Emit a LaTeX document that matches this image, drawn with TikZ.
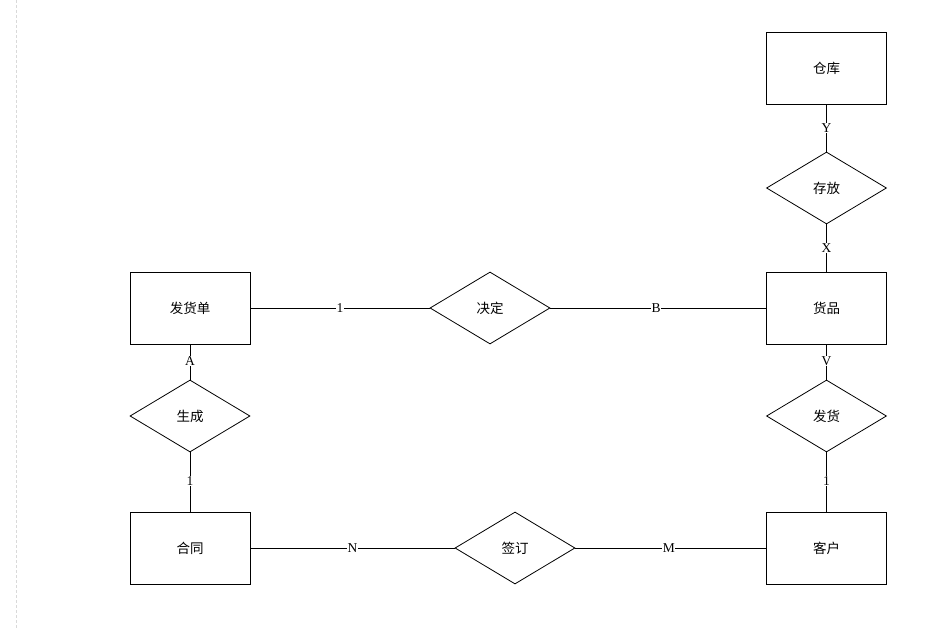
\documentclass[tikz,border=0pt]{standalone}
\usepackage{fontspec}
\setmainfont{Liberation Serif}
\newfontfamily\cjk{Noto Sans CJK SC}
\usetikzlibrary{shapes.geometric}

\tikzset{
	entity/.style={draw, line width=0.8pt, rectangle, minimum width=120pt, minimum height=72pt, font=\cjk\fontsize{13.5}{15}\selectfont},
	relation/.style={draw, line width=0.8pt, diamond, inner sep=0pt, minimum width=120pt, minimum height=72pt, font=\cjk\fontsize{13.5}{15}\selectfont},
	link/.style={line width=0.8pt},
	card/.style={fill=white, inner sep=0.6pt, font=\fontsize{13.5}{14}\selectfont}
}

\begin{document}
\begin{tikzpicture}[x=1pt, y=-1pt]
	\useasboundingbox [fill=white] (0,0) rectangle (939,628);
	\draw [black!15, dash pattern=on 3pt off 2pt] (16,0) -- (16,628);

	% entities
	\node [entity] (cangku) at (826.5,68) {仓库};
	\node [entity] (huopin) at (826.5,308) {货品};
	\node [entity] (kehu) at (826.5,548) {客户};
	\node [entity] (fahuodan) at (190,308) {发货单};
	\node [entity] (hetong) at (190,548) {合同};

	% relations
	\node [relation] (cunfang) at (826.5,188) {存放};
	\node [relation] (fahuo) at (826.5,416) {发货};
	\node [relation] (jueding) at (490,308) {决定};
	\node [relation] (shengcheng) at (190,416) {生成};
	\node [relation] (qianding) at (515,548) {签订};

	% connectors
	\draw [link] (cangku) -- node [card, pos=0.5] {Y} (cunfang);
	\draw [link] (cunfang) -- node [card, pos=0.5] {X} (huopin);
	\draw [link] (huopin) -- node [card, pos=0.47] {V} (fahuo);
	\draw [link] (fahuo) -- node [card, pos=0.48] {1} (kehu);
	\draw [link] (fahuodan) -- node [card, pos=0.5] {1} (jueding);
	\draw [link] (jueding) -- node [card, pos=0.49] {B} (huopin);
	\draw [link] (fahuodan) -- node [card, pos=0.47] {A} (shengcheng);
	\draw [link] (shengcheng) -- node [card, pos=0.48] {1} (hetong);
	\draw [link] (hetong) -- node [card, pos=0.5] {N} (qianding);
	\draw [link] (qianding) -- node [card, pos=0.49] {M} (kehu);
\end{tikzpicture}
\end{document}
